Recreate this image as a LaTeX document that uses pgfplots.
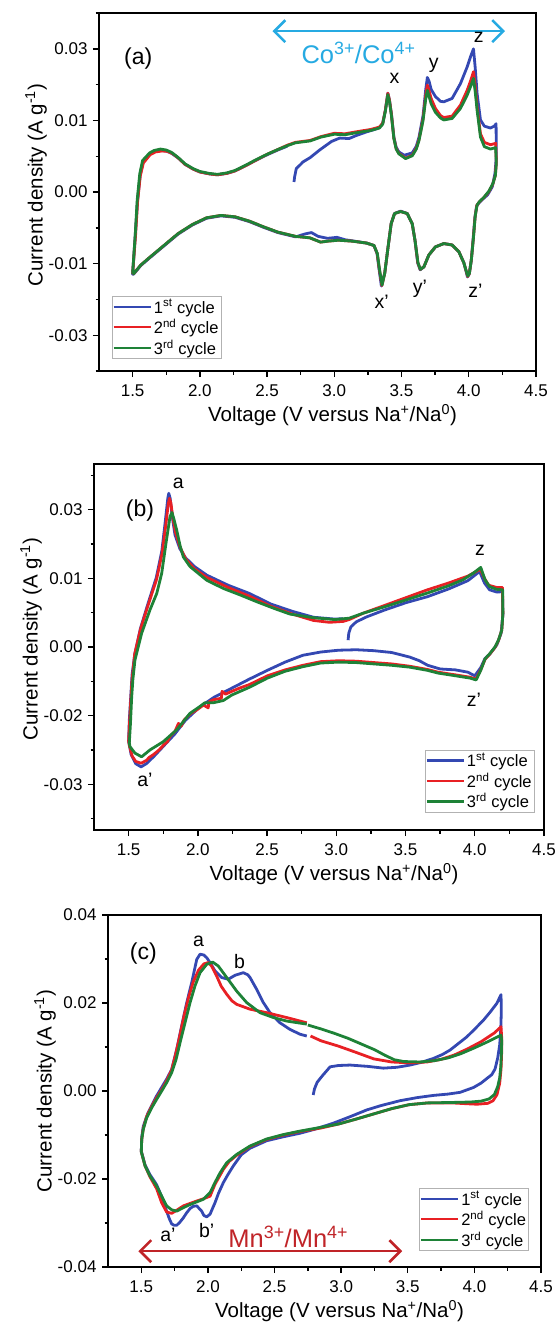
\documentclass[border=0pt]{standalone}
\usepackage{fontspec}
\setmainfont{Liberation Sans}
\usepackage{pgfplots}
\pgfplotsset{compat=1.18}
\usetikzlibrary{arrows.meta}

\definecolor{cycA}{RGB}{52,72,178}
\definecolor{cycB}{RGB}{232,32,36}
\definecolor{cycC}{RGB}{30,130,55}
\definecolor{coarrow}{RGB}{38,170,226}
\definecolor{mnarrow}{RGB}{192,36,40}

\tikzset{
  peak/.style={font=\fontsize{19.5bp}{22bp}\selectfont, inner sep=0pt},
  tag/.style={font=\fontsize{23bp}{26bp}\selectfont, inner sep=0pt},
  redox/.style={font=\fontsize{25.5bp}{28bp}\selectfont, inner sep=0pt},
  span/.style={line width=2.6bp,
    {Straight Barb[length=11bp,width=22bp]}-{Straight Barb[length=11bp,width=22bp]}},
}

\pgfplotsset{
  cv/.style={
    scale only axis,
    xmin=1.25, xmax=4.5,
    xtick={1.5,2,2.5,3,3.5,4,4.5},
    xticklabels={1.5,2.0,2.5,3.0,3.5,4.0,4.5},
    minor xtick={1.75,2.25,2.75,3.25,3.75,4.25},
    scaled ticks=false,
    tick align=outside,
    tick pos=left,
    major tick length=6bp,
    minor tick length=3.5bp,
    every tick/.style={black, line width=1.4bp},
    axis line style={line width=1.8bp},
    ticklabel style={font=\fontsize{17bp}{20bp}\selectfont},
    xticklabel shift=4bp,
    yticklabel shift=2bp,
    label style={font=\fontsize{20.5bp}{24bp}\selectfont},
    xlabel style={yshift=-1bp, xshift=15bp},
    xlabel={Voltage (V versus Na\textsuperscript{+}/Na\textsuperscript{0})},
    ylabel={Current density (A g\textsuperscript{-1})},
    clip=false,
    legend cell align=left,
    legend image code/.code={\draw[#1, line width=2.3bp] (0bp,0bp) -- (37bp,0bp);},
    legend style={draw=gray!60, line width=0.8bp,
      font=\fontsize{16.5bp}{19bp}\selectfont,
      nodes={inner sep=2bp},
      inner xsep=0.5bp, inner ysep=1bp, row sep=0.5bp},
    legend entries={1\textsuperscript{st} cycle, 2\textsuperscript{nd} cycle, 3\textsuperscript{rd} cycle},
    every axis plot/.append style={line width=2.8bp, line join=round},
  },
}

\begin{document}
\begin{tikzpicture}
\useasboundingbox (0bp,0bp) rectangle (558bp,-1335bp);

% ---------------- (a) ----------------
\begin{axis}[cv,
  at={(99bp,-371bp)}, anchor=south west,
  width=437bp, height=358bp,
  ymin=-0.0375, ymax=0.0375,
  ytick={-0.03,-0.015,0,0.015,0.03},
  yticklabels={-0.03,-0.01,0.00,0.01,0.03},
  minor ytick={-0.0375,-0.0225,-0.0075,0.0075,0.0225,0.0375},
  ylabel style={yshift=-5bp, xshift=7bp},
  legend style={at={(0.029,0.033)}, anchor=south west},
]
% 1st cycle
\addplot[cycA] coordinates {
(2.70,0.0021) (2.705,0.0032) (2.717,0.0049) (2.75,0.0058) (2.767,0.0063) (2.82,0.0072)
(2.891,0.0088) (2.95,0.0100) (2.98,0.0106) (3.04,0.0113) (3.11,0.0112) (3.16,0.0118)
(3.24,0.0126) (3.30,0.0131) (3.335,0.0135) (3.36,0.0144) (3.38,0.0172) (3.398,0.0207)
(3.41,0.0193) (3.425,0.0163) (3.443,0.0115) (3.46,0.0094) (3.48,0.0084) (3.52,0.0077)
(3.58,0.0082) (3.61,0.0096) (3.63,0.0115) (3.66,0.0160) (3.68,0.0215) (3.692,0.0240)
(3.705,0.0232) (3.72,0.0215) (3.752,0.0200) (3.79,0.0190) (3.814,0.0189) (3.876,0.0196)
(3.938,0.0227) (3.988,0.0262) (4.015,0.0285) (4.035,0.0300) (4.048,0.0260) (4.062,0.0206)
(4.087,0.0151) (4.116,0.0138) (4.161,0.0134) (4.19,0.0138) (4.203,0.0143)
(4.205,0.0074) (4.195,0.0039) (4.175,0.0011) (4.14,-0.0006) (4.10,-0.0016) (4.075,-0.0023)
(4.058,-0.0030) (4.045,-0.0055) (4.032,-0.0100) (4.018,-0.0145) (4.003,-0.0172) (3.99,-0.0178)
(3.975,-0.0160) (3.963,-0.0148) (3.926,-0.0125) (3.876,-0.0111) (3.814,-0.0108) (3.752,-0.0115)
(3.703,-0.0132) (3.666,-0.0157) (3.638,-0.0163) (3.62,-0.0148) (3.60,-0.0101) (3.579,-0.0066)
(3.542,-0.0045) (3.493,-0.0040) (3.448,-0.0045) (3.423,-0.0066) (3.40,-0.0115) (3.375,-0.0170)
(3.35,-0.0197) (3.332,-0.0160) (3.318,-0.0129) (3.295,-0.0112) (3.24,-0.0107) (3.15,-0.0103)
(3.08,-0.0100) (3.02,-0.0095) (2.95,-0.0097) (2.88,-0.0093) (2.83,-0.0085) (2.78,-0.0088)
(2.713,-0.0094) (2.58,-0.0085) (2.474,-0.0074) (2.368,-0.0062) (2.262,-0.0053) (2.157,-0.0050)
(2.05,-0.0055) (1.945,-0.0069) (1.839,-0.0088) (1.733,-0.0113) (1.627,-0.0138) (1.561,-0.0154)
(1.508,-0.0172) (1.50,-0.0172) (1.52,-0.0090) (1.536,-0.0020) (1.556,0.0035) (1.578,0.0063)
(1.63,0.0080) (1.66,0.0085) (1.71,0.0087) (1.75,0.0086) (1.79,0.0081) (1.84,0.0071)
(1.89,0.0058) (1.95,0.0048) (2.00,0.0042) (2.07,0.0038) (2.13,0.0036) (2.20,0.0039)
(2.26,0.0044) (2.34,0.0055) (2.42,0.0067) (2.50,0.0078) (2.58,0.0088) (2.65,0.0096)
};
% 2nd cycle
\addplot[cycB] coordinates {
(1.50,-0.0171) (1.522,-0.0090) (1.537,-0.0020) (1.557,0.0034) (1.58,0.0061) (1.63,0.0078)
(1.67,0.0084) (1.72,0.0086) (1.76,0.0085) (1.80,0.0080) (1.84,0.0071) (1.89,0.0058)
(1.95,0.0048) (2.00,0.0042) (2.07,0.0038) (2.13,0.0036) (2.20,0.0039) (2.26,0.0044)
(2.34,0.0055) (2.42,0.0067) (2.50,0.0079) (2.58,0.0089) (2.65,0.0098) (2.71,0.0104)
(2.82,0.0108) (2.90,0.0116) (3.00,0.0123) (3.08,0.0122) (3.16,0.0126) (3.27,0.0131)
(3.335,0.0136) (3.36,0.0144) (3.38,0.0172) (3.398,0.0207) (3.41,0.0193) (3.425,0.0162)
(3.443,0.0113) (3.46,0.0091) (3.48,0.0081) (3.53,0.0071) (3.58,0.0077) (3.61,0.0092)
(3.63,0.0110) (3.66,0.0153) (3.68,0.0203) (3.692,0.0224) (3.705,0.0212) (3.72,0.0196)
(3.752,0.0175) (3.79,0.0160) (3.814,0.0156) (3.876,0.0159) (3.938,0.0182) (3.988,0.0213)
(4.015,0.0234) (4.035,0.0252) (4.048,0.0222) (4.062,0.0178) (4.087,0.0122) (4.116,0.0104)
(4.161,0.0099) (4.20,0.0102)
(4.205,0.0062) (4.197,0.0034) (4.178,0.0016) (4.148,0.0000) (4.108,-0.0013) (4.078,-0.0021)
(4.06,-0.0028) (4.047,-0.0052) (4.034,-0.0097) (4.019,-0.0142) (4.004,-0.0171) (3.992,-0.0177)
(3.975,-0.0160) (3.963,-0.0148) (3.926,-0.0125) (3.876,-0.0111) (3.814,-0.0108) (3.752,-0.0115)
(3.703,-0.0132) (3.666,-0.0157) (3.639,-0.0162) (3.621,-0.0148) (3.60,-0.0101) (3.579,-0.0066)
(3.542,-0.0045) (3.493,-0.0041) (3.448,-0.0045) (3.423,-0.0066) (3.40,-0.0115) (3.375,-0.0170)
(3.354,-0.0196) (3.334,-0.0160) (3.319,-0.0129) (3.295,-0.0112) (3.24,-0.0107) (3.136,-0.0103)
(3.03,-0.0101) (2.95,-0.0103) (2.898,-0.0105) (2.818,-0.0096) (2.713,-0.0093) (2.58,-0.0084)
(2.474,-0.0073) (2.368,-0.0061) (2.262,-0.0052) (2.157,-0.0049) (2.05,-0.0054) (1.945,-0.0068)
(1.839,-0.0087) (1.733,-0.0112) (1.627,-0.0137) (1.561,-0.0153) (1.508,-0.0171) (1.50,-0.0171)
};
% 3rd cycle
\addplot[cycC] coordinates {
(1.50,-0.0171) (1.52,-0.0087) (1.534,-0.0017) (1.553,0.0038) (1.574,0.0066) (1.627,0.0082)
(1.66,0.0087) (1.707,0.0090) (1.75,0.0088) (1.79,0.0083) (1.84,0.0072) (1.89,0.0059)
(1.95,0.0049) (2.00,0.0043) (2.07,0.0039) (2.13,0.0037) (2.20,0.0040) (2.26,0.0045)
(2.34,0.0056) (2.42,0.0068) (2.50,0.0079) (2.58,0.0089) (2.65,0.0097) (2.71,0.0103)
(2.82,0.0107) (2.90,0.0115) (3.00,0.0121) (3.08,0.0120) (3.16,0.0124) (3.27,0.0129)
(3.335,0.0134) (3.36,0.0142) (3.38,0.0170) (3.398,0.0204) (3.41,0.0190) (3.425,0.0160)
(3.443,0.0112) (3.46,0.0090) (3.48,0.0080) (3.53,0.0070) (3.58,0.0076) (3.61,0.0090)
(3.63,0.0108) (3.66,0.0150) (3.68,0.0195) (3.692,0.0213) (3.705,0.0200) (3.72,0.0185)
(3.752,0.0167) (3.79,0.0155) (3.814,0.0151) (3.876,0.0154) (3.938,0.0175) (3.988,0.0203)
(4.015,0.0222) (4.035,0.0238) (4.048,0.0210) (4.062,0.0171) (4.087,0.0115) (4.116,0.0095)
(4.161,0.0090) (4.20,0.0093)
(4.205,0.0060) (4.198,0.0035) (4.18,0.0018) (4.15,0.0002) (4.11,-0.0012) (4.08,-0.0020)
(4.062,-0.0027) (4.048,-0.0050) (4.035,-0.0095) (4.02,-0.0140) (4.005,-0.0170) (3.993,-0.0176)
(3.975,-0.0160) (3.963,-0.0148) (3.926,-0.0125) (3.876,-0.0111) (3.814,-0.0108) (3.752,-0.0115)
(3.703,-0.0132) (3.666,-0.0157) (3.64,-0.0162) (3.622,-0.0148) (3.60,-0.0101) (3.579,-0.0066)
(3.542,-0.0045) (3.493,-0.0041) (3.448,-0.0045) (3.423,-0.0066) (3.40,-0.0115) (3.375,-0.0170)
(3.355,-0.0195) (3.335,-0.0160) (3.32,-0.0129) (3.295,-0.0112) (3.24,-0.0107) (3.136,-0.0103)
(3.03,-0.0101) (2.95,-0.0103) (2.898,-0.0105) (2.818,-0.0096) (2.713,-0.0093) (2.58,-0.0084)
(2.474,-0.0073) (2.368,-0.0061) (2.262,-0.0052) (2.157,-0.0049) (2.05,-0.0054) (1.945,-0.0068)
(1.839,-0.0087) (1.733,-0.0112) (1.627,-0.0137) (1.561,-0.0153) (1.508,-0.0171) (1.50,-0.0171)
};
\node[tag] at (axis cs:1.542,0.028) {(a)};
\draw[coarrow, span] (axis cs:2.54,0.0337) -- (axis cs:4.27,0.0337);
\node[coarrow, redox] at (axis cs:3.18,0.0291) {Co\textsuperscript{3+}/Co\textsuperscript{4+}};
\node[peak] at (axis cs:3.448,0.0239) {x};
\node[peak] at (axis cs:3.74,0.0266) {y};
\node[peak] at (axis cs:4.074,0.0325) {z};
\node[peak] at (axis cs:3.353,-0.0230) {x'};
\node[peak] at (axis cs:3.636,-0.0202) {y'};
\node[peak] at (axis cs:4.05,-0.0206) {z'};
\end{axis}

% ---------------- (b) ----------------
\begin{axis}[cv,
  at={(94bp,-830bp)}, anchor=south west,
  width=450bp, height=366bp,
  ymin=-0.04, ymax=0.04,
  ytick={-0.03,-0.015,0,0.015,0.03},
  yticklabels={-0.03,-0.02,0.00,0.01,0.03},
  minor ytick={-0.0375,-0.0225,-0.0075,0.0075,0.0225,0.0375},
  ylabel style={yshift=-5bp, xshift=8bp},
  legend style={at={(0.979,0.047)}, anchor=south east},
]
% 1st cycle
\addplot[cycA] coordinates {
(3.085,0.0015) (3.09,0.0030) (3.105,0.0044) (3.144,0.0055) (3.22,0.0066) (3.35,0.0081)
(3.504,0.0097) (3.658,0.0110) (3.812,0.0127) (3.95,0.0145) (4.035,0.0165) (4.07,0.0140)
(4.107,0.0125) (4.16,0.0120) (4.20,0.0121)
(4.203,0.0070) (4.19,0.0030) (4.16,0.0005) (4.11,-0.0015) (4.074,-0.0025) (4.043,-0.0045)
(4.00,-0.0063) (3.95,-0.0055) (3.86,-0.0050) (3.75,-0.0048) (3.66,-0.0040) (3.60,-0.0030)
(3.53,-0.0022) (3.40,-0.0012) (3.27,-0.0008) (3.144,-0.0006) (3.016,-0.0007) (2.887,-0.0011)
(2.759,-0.0018) (2.63,-0.0033) (2.502,-0.0051) (2.373,-0.0070) (2.245,-0.0090) (2.116,-0.0110)
(2.01,-0.0132) (1.911,-0.0160) (1.834,-0.0190) (1.757,-0.0215) (1.68,-0.0240) (1.628,-0.0255)
(1.59,-0.0262) (1.551,-0.0255) (1.518,-0.0235) (1.50,-0.0205)
(1.505,-0.0160) (1.513,-0.0120) (1.525,-0.0060) (1.545,-0.0015) (1.585,0.0040) (1.635,0.0090)
(1.70,0.0152) (1.74,0.0210) (1.765,0.0275) (1.783,0.0325) (1.790,0.0336) (1.80,0.0325)
(1.815,0.0285) (1.835,0.0245) (1.87,0.0215) (1.911,0.0195) (1.975,0.0176) (2.065,0.0157)
(2.219,0.0135) (2.373,0.0117) (2.527,0.0094) (2.682,0.0078) (2.836,0.0065) (2.99,0.0061)
(3.05,0.0062)
};
% 2nd cycle
\addplot[cycB] coordinates {
(1.50,-0.0205) (1.506,-0.0170) (1.514,-0.0125) (1.524,-0.0075) (1.544,-0.0015) (1.585,0.0038)
(1.637,0.0088) (1.702,0.0148) (1.742,0.0205) (1.768,0.0265) (1.786,0.0312) (1.795,0.0325)
(1.805,0.0315) (1.82,0.0282) (1.839,0.0250) (1.872,0.0218) (1.911,0.0193) (1.975,0.0171)
(2.065,0.0152) (2.219,0.0130) (2.373,0.0111) (2.527,0.0089) (2.682,0.0072) (2.836,0.0058)
(2.95,0.0054) (3.05,0.0056) (3.093,0.0060) (3.195,0.0074) (3.35,0.0091) (3.504,0.0108)
(3.658,0.0125) (3.812,0.0140) (3.95,0.0155) (4.04,0.0170) (4.07,0.0150) (4.10,0.0135)
(4.16,0.0130) (4.20,0.0130)
(4.203,0.0074) (4.195,0.0037) (4.171,0.0014) (4.146,-0.0001) (4.107,-0.0016) (4.074,-0.0027)
(4.043,-0.0050) (4.008,-0.0070) (3.966,-0.0066) (3.863,-0.0061) (3.735,-0.0055) (3.658,-0.0049)
(3.529,-0.0042) (3.401,-0.0037) (3.272,-0.0034) (3.144,-0.0031) (3.016,-0.0030) (2.887,-0.0032)
(2.759,-0.0040) (2.63,-0.0050) (2.502,-0.0063) (2.373,-0.0082) (2.30,-0.0090) (2.245,-0.0097)
(2.20,-0.0103) (2.175,-0.0097) (2.17,-0.0112) (2.116,-0.0115) (2.08,-0.0120) (2.075,-0.0133)
(2.04,-0.0127) (1.99,-0.0138) (1.95,-0.0145) (1.90,-0.0160) (1.88,-0.0173) (1.86,-0.0167)
(1.834,-0.0185) (1.80,-0.0195) (1.78,-0.0207) (1.757,-0.0213) (1.72,-0.0225) (1.68,-0.0235)
(1.65,-0.0241) (1.628,-0.0248) (1.59,-0.0254) (1.551,-0.0250) (1.525,-0.0238) (1.505,-0.0215)
(1.50,-0.0205)
};
% 3rd cycle
\addplot[cycC] coordinates {
(1.505,-0.0210) (1.513,-0.0169) (1.522,-0.0110) (1.531,-0.0070) (1.546,-0.0028) (1.594,0.0030)
(1.654,0.0081) (1.703,0.0117) (1.739,0.0161) (1.77,0.0227) (1.799,0.0285) (1.813,0.0294)
(1.825,0.0282) (1.847,0.0256) (1.872,0.0221) (1.895,0.0197) (1.943,0.0176) (1.975,0.0168)
(2.064,0.0146) (2.184,0.0128) (2.304,0.0114) (2.425,0.0099) (2.545,0.0085) (2.665,0.0072)
(2.836,0.0064) (2.99,0.0060) (3.093,0.0063) (3.195,0.0074) (3.35,0.0088) (3.504,0.0103)
(3.658,0.0118) (3.812,0.0134) (3.915,0.0147) (3.992,0.0162) (4.043,0.0174) (4.074,0.0147)
(4.107,0.0132) (4.159,0.0126) (4.202,0.0125)
(4.203,0.0074) (4.195,0.0037) (4.171,0.0015) (4.146,0.0000) (4.107,-0.0015) (4.074,-0.0026)
(4.043,-0.0051) (4.01,-0.0072) (3.966,-0.0068) (3.863,-0.0063) (3.735,-0.0057) (3.658,-0.0051)
(3.529,-0.0044) (3.401,-0.0040) (3.272,-0.0037) (3.144,-0.0034) (3.016,-0.0033) (2.887,-0.0035)
(2.759,-0.0043) (2.63,-0.0053) (2.502,-0.0068) (2.373,-0.0088) (2.245,-0.0105) (2.184,-0.0117)
(2.11,-0.0122) (2.05,-0.0122) (2.015,-0.0130) (1.943,-0.0145) (1.847,-0.0181) (1.75,-0.0207)
(1.654,-0.0225) (1.594,-0.0240) (1.546,-0.0232) (1.51,-0.0218) (1.505,-0.0210)
};
\node[tag] at (axis cs:1.582,0.0299) {(b)};
\node[peak] at (axis cs:1.859,0.0358) {a};
\node[peak] at (axis cs:1.618,-0.0291) {a'};
\node[peak] at (axis cs:4.037,0.0212) {z};
\node[peak] at (axis cs:3.993,-0.0116) {z'};
\end{axis}

% ---------------- (c) ----------------
\begin{axis}[cv,
  at={(108bp,-1267bp)}, anchor=south west,
  width=433bp, height=352bp,
  ymin=-0.04, ymax=0.04,
  ytick={-0.04,-0.02,0,0.02,0.04},
  yticklabels={-0.04,-0.02,0.00,0.02,0.04},
  minor ytick={-0.03,-0.01,0.01,0.03},
  ylabel style={yshift=-5bp},
  legend style={at={(0.972,0.045)}, anchor=south east},
]
% 1st cycle
\addplot[cycA] coordinates {
(2.79,-0.0009) (2.80,0.0005) (2.82,0.0020) (2.86,0.0035) (2.917,0.0055) (2.98,0.0058)
(3.067,0.0059) (3.20,0.0056) (3.317,0.0052) (3.42,0.0054) (3.517,0.0059) (3.60,0.0065)
(3.692,0.0074) (3.76,0.0083) (3.817,0.0093) (3.88,0.0108) (3.943,0.0123) (4.00,0.0140)
(4.068,0.0161) (4.12,0.0180) (4.168,0.0199) (4.20,0.0219)
(4.202,0.0180) (4.198,0.0140) (4.19,0.0105) (4.175,0.0075) (4.155,0.0050) (4.13,0.0037)
(4.10,0.0030) (4.05,0.0018) (3.993,0.0008) (3.893,-0.0003) (3.80,-0.0007) (3.692,-0.0010)
(3.57,-0.0015) (3.442,-0.0022) (3.30,-0.0033) (3.192,-0.0043) (3.07,-0.0058) (2.942,-0.0073)
(2.80,-0.0087) (2.691,-0.0096) (2.566,-0.0104) (2.441,-0.0113) (2.316,-0.0130) (2.25,-0.0145)
(2.191,-0.0170) (2.150,-0.0190) (2.116,-0.0208) (2.08,-0.0232) (2.053,-0.0254) (2.03,-0.0270)
(2.016,-0.0280) (1.991,-0.0286) (1.97,-0.0283) (1.953,-0.0273) (1.916,-0.0261) (1.89,-0.0262)
(1.866,-0.0267) (1.84,-0.0277) (1.816,-0.0288) (1.79,-0.0298) (1.766,-0.0305) (1.745,-0.0305)
(1.728,-0.0302) (1.71,-0.0290) (1.69,-0.0273) (1.653,-0.0240) (1.615,-0.0213) (1.565,-0.0190)
(1.528,-0.0168) (1.50,-0.0137)
(1.503,-0.0105) (1.515,-0.0080) (1.55,-0.0050) (1.615,-0.0011) (1.69,0.0027) (1.728,0.0049)
(1.766,0.0095) (1.803,0.0148) (1.841,0.0201) (1.878,0.0246) (1.916,0.0299) (1.941,0.0311)
(1.97,0.0309) (1.991,0.0303) (2.02,0.0290) (2.053,0.0273) (2.103,0.0258) (2.153,0.0254)
(2.203,0.0263) (2.266,0.0269) (2.30,0.0264) (2.316,0.0258) (2.366,0.0231) (2.416,0.0201)
(2.466,0.0178) (2.541,0.0155) (2.616,0.0140) (2.692,0.0129) (2.742,0.0125)
};
% 2nd cycle
\addplot[cycB] coordinates {
(2.77,0.0125) (2.85,0.0114) (2.98,0.0102) (3.11,0.0088) (3.245,0.0073) (3.38,0.0066)
(3.51,0.0064) (3.645,0.0066) (3.75,0.0072) (3.85,0.0082) (3.95,0.0096) (4.05,0.0112)
(4.15,0.0132) (4.20,0.0146)
(4.205,0.0120) (4.205,0.0090) (4.20,0.0050) (4.19,0.0018) (4.17,-0.0008) (4.14,-0.0022)
(4.10,-0.0028) (4.02,-0.0030) (3.95,-0.0029) (3.83,-0.0027) (3.65,-0.0027) (3.51,-0.0031)
(3.38,-0.0040) (3.245,-0.0052) (3.11,-0.0064) (2.98,-0.0075) (2.85,-0.0084) (2.692,-0.0092)
(2.566,-0.0100) (2.441,-0.0110) (2.316,-0.0126) (2.216,-0.0146) (2.16,-0.0160) (2.116,-0.0178)
(2.053,-0.0212) (2.016,-0.0239) (1.966,-0.0245) (1.916,-0.0250) (1.816,-0.0261) (1.76,-0.0272)
(1.728,-0.0278) (1.69,-0.0275) (1.653,-0.0254) (1.615,-0.0222) (1.565,-0.0195) (1.528,-0.0170)
(1.50,-0.0138)
(1.503,-0.0110) (1.515,-0.0085) (1.54,-0.0058) (1.578,-0.0035) (1.615,-0.0015) (1.653,0.0003)
(1.69,0.0023) (1.728,0.0048) (1.755,0.0080) (1.785,0.0120) (1.82,0.0170) (1.855,0.0213)
(1.89,0.0248) (1.93,0.0275) (1.97,0.0289) (2.003,0.0292) (2.03,0.0283) (2.066,0.0261)
(2.10,0.0238) (2.141,0.0220) (2.18,0.0205) (2.216,0.0197) (2.316,0.0186) (2.441,0.0178)
(2.591,0.0167) (2.742,0.0155)
};
% 3rd cycle
\addplot[cycC] coordinates {
(2.75,0.0150) (2.85,0.0141) (2.95,0.0131) (3.05,0.0120) (3.15,0.0107) (3.25,0.0094)
(3.33,0.0081) (3.40,0.0071) (3.47,0.0067) (3.59,0.0066) (3.70,0.0069) (3.80,0.0075)
(3.90,0.0085) (4.00,0.0098) (4.10,0.0112) (4.20,0.0127)
(4.205,0.0115) (4.203,0.0087) (4.198,0.0055) (4.19,0.0030) (4.175,0.0010) (4.15,-0.0008)
(4.11,-0.0018) (4.05,-0.0023) (3.97,-0.0025) (3.83,-0.0026) (3.65,-0.0027) (3.51,-0.0031)
(3.38,-0.0040) (3.245,-0.0052) (3.11,-0.0064) (2.98,-0.0075) (2.82,-0.0084) (2.692,-0.0091)
(2.566,-0.0099) (2.441,-0.0109) (2.316,-0.0125) (2.216,-0.0144) (2.141,-0.0163) (2.091,-0.0186)
(2.053,-0.0208) (2.016,-0.0231) (1.966,-0.0246) (1.916,-0.0252) (1.866,-0.0258) (1.816,-0.0265)
(1.766,-0.0273) (1.728,-0.0270) (1.69,-0.0261) (1.653,-0.0239) (1.615,-0.0216) (1.565,-0.0193)
(1.528,-0.0170) (1.50,-0.0138)
(1.503,-0.0110) (1.515,-0.0087) (1.54,-0.0061) (1.578,-0.0038) (1.615,-0.0019) (1.653,0.0000)
(1.69,0.0019) (1.728,0.0042) (1.761,0.0072) (1.791,0.0110) (1.828,0.0155) (1.866,0.0201)
(1.903,0.0239) (1.941,0.0269) (1.991,0.0288) (2.036,0.0293) (2.078,0.0284) (2.141,0.0258)
(2.216,0.0227) (2.291,0.0201) (2.391,0.0178) (2.491,0.0167) (2.591,0.0159) (2.742,0.0152)
};
\node[tag] at (axis cs:1.515,0.0313) {(c)};
\node[peak] at (axis cs:1.93,0.0340) {a};
\node[peak] at (axis cs:2.238,0.0295) {b};
\node[peak] at (axis cs:1.70,-0.0328) {a'};
\node[peak] at (axis cs:1.99,-0.0316) {b'};
\draw[mnarrow, span] (axis cs:1.478,-0.0364) -- (axis cs:3.458,-0.0364);
\node[mnarrow, redox] at (axis cs:2.603,-0.0331) {Mn\textsuperscript{3+}/Mn\textsuperscript{4+}};
\end{axis}
\end{tikzpicture}
\end{document}
